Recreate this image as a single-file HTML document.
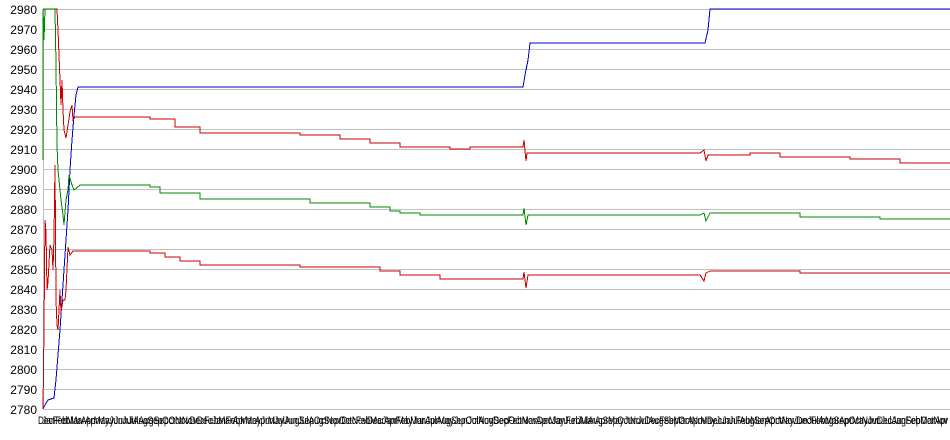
<!DOCTYPE html>
<html><head><meta charset="utf-8"><style>
body{margin:0;background:#fff;width:950px;height:435px;overflow:hidden;font-family:"Liberation Sans",sans-serif}
</style></head><body>
<svg width="950" height="435" xmlns="http://www.w3.org/2000/svg" font-family="Liberation Sans, sans-serif">
<g stroke="#c0c0c0" stroke-width="1" shape-rendering="crispEdges">
<line x1="43" x2="950" y1="9.5" y2="9.5"/><line x1="43" x2="950" y1="29.5" y2="29.5"/><line x1="43" x2="950" y1="49.5" y2="49.5"/><line x1="43" x2="950" y1="69.5" y2="69.5"/><line x1="43" x2="950" y1="89.5" y2="89.5"/><line x1="43" x2="950" y1="109.5" y2="109.5"/><line x1="43" x2="950" y1="129.5" y2="129.5"/><line x1="43" x2="950" y1="149.5" y2="149.5"/><line x1="43" x2="950" y1="169.5" y2="169.5"/><line x1="43" x2="950" y1="189.5" y2="189.5"/><line x1="43" x2="950" y1="209.5" y2="209.5"/><line x1="43" x2="950" y1="229.5" y2="229.5"/><line x1="43" x2="950" y1="249.5" y2="249.5"/><line x1="43" x2="950" y1="269.5" y2="269.5"/><line x1="43" x2="950" y1="289.5" y2="289.5"/><line x1="43" x2="950" y1="309.5" y2="309.5"/><line x1="43" x2="950" y1="329.5" y2="329.5"/><line x1="43" x2="950" y1="349.5" y2="349.5"/><line x1="43" x2="950" y1="369.5" y2="369.5"/><line x1="43" x2="950" y1="389.5" y2="389.5"/><line x1="43" x2="950" y1="409.5" y2="409.5"/>
<line x1="43.5" x2="43.5" y1="9" y2="410"/>
</g>
<g font-size="12" fill="#000" text-anchor="end">
<text x="37" y="14">2980</text><text x="37" y="34">2970</text><text x="37" y="54">2960</text><text x="37" y="74">2950</text><text x="37" y="94">2940</text><text x="37" y="114">2930</text><text x="37" y="134">2920</text><text x="37" y="154">2910</text><text x="37" y="174">2900</text><text x="37" y="194">2890</text><text x="37" y="214">2880</text><text x="37" y="234">2870</text><text x="37" y="254">2860</text><text x="37" y="274">2850</text><text x="37" y="294">2840</text><text x="37" y="314">2830</text><text x="37" y="334">2820</text><text x="37" y="354">2810</text><text x="37" y="374">2800</text><text x="37" y="394">2790</text><text x="37" y="414">2780</text>
</g>
<g font-size="11" fill="#000">
<text x="38" y="424" textLength="910" lengthAdjust="spacingAndGlyphs">DecFebMarAprMayJunJulAugSepOctNovDecFebMarAprMayJunJulAugSepOctNovDecFebMarAprMayJunJulAugSepOctNovDecFebMarAprMayJunJulAugSepOctNovDecFebMarAprMayJunJulAugSepOctNovDecFebMarAprMayJunJulAugSepOctNov</text>
<text x="42" y="424" textLength="906" lengthAdjust="spacingAndGlyphs">JanFebMarAprMayJunJulAugSepOctNovDecJanFebMarAprMayJunJulAugSepOctNovDecJanFebMarAprMayJunJulAugSepOctNovDecJanFebMarAprMayJunJulAugSepOctNovDecJanFebMarAprMayJunJulAugSepOctNovDecJanFebMarApr</text>
</g>
<g fill="none" stroke-width="1" shape-rendering="crispEdges">
<polyline stroke="#0000cc" points="43,409 45,405 48,400 54,398 56,380 58,355 60,330 62,300 64,270 66,240 68,210 70,170 72,140 74,115 76,95 78,87 523,87 525,75 528,60 530,43 705,43 708,30 710,9 950,9"/>
<polyline stroke="#cc0000" points="43,9 57,9 58,30 60,80 61,105 62,80 63,110 64,130 66,138 68,125 70,112 72,105 73,120 75,117 150,117 150,119 175,119 175,127 200,127 200,133 300,133 300,135 340,135 340,139 370,139 370,143 400,143 400,147 450,147 450,149 470,149 470,147 523,147 524,140 526,161 527,153 700,153 704,150 706,161 708,155 750,155 750,153 780,153 780,157 850,157 850,159 900,159 900,163 950,163"/>
<polyline stroke="#008800" points="43,160 43,9 44,40 45,9 55,9 56,65 57,145 58,170 60,190 61,200 63,215 64,225 66,200 68,190 69,175 72,185 74,190 80,185 150,185 150,187 160,187 160,193 200,193 200,199 310,199 310,203 370,203 370,207 390,207 390,211 400,211 400,213 420,213 420,215 523,215 524,208 526,225 528,215 700,215 704,213 706,221 710,213 800,213 800,217 880,217 880,219 950,219"/>
<polyline stroke="#cc0000" points="43,409 44,328 45,220 46,232 47,290 48,282 50,245 52,250 53,270 54,237 55,165 56,300 57,325 58,330 60,290 61,312 63,300 65,300 66,290 68,247 70,255 73,251 150,251 150,253 165,253 165,257 180,257 180,261 200,261 200,265 300,265 300,267 380,267 380,271 400,271 400,275 440,275 440,279 523,279 524,272 526,288 528,275 700,275 704,281 706,273 710,271 800,271 800,273 950,273"/>
</g>
</svg>
</body></html>
